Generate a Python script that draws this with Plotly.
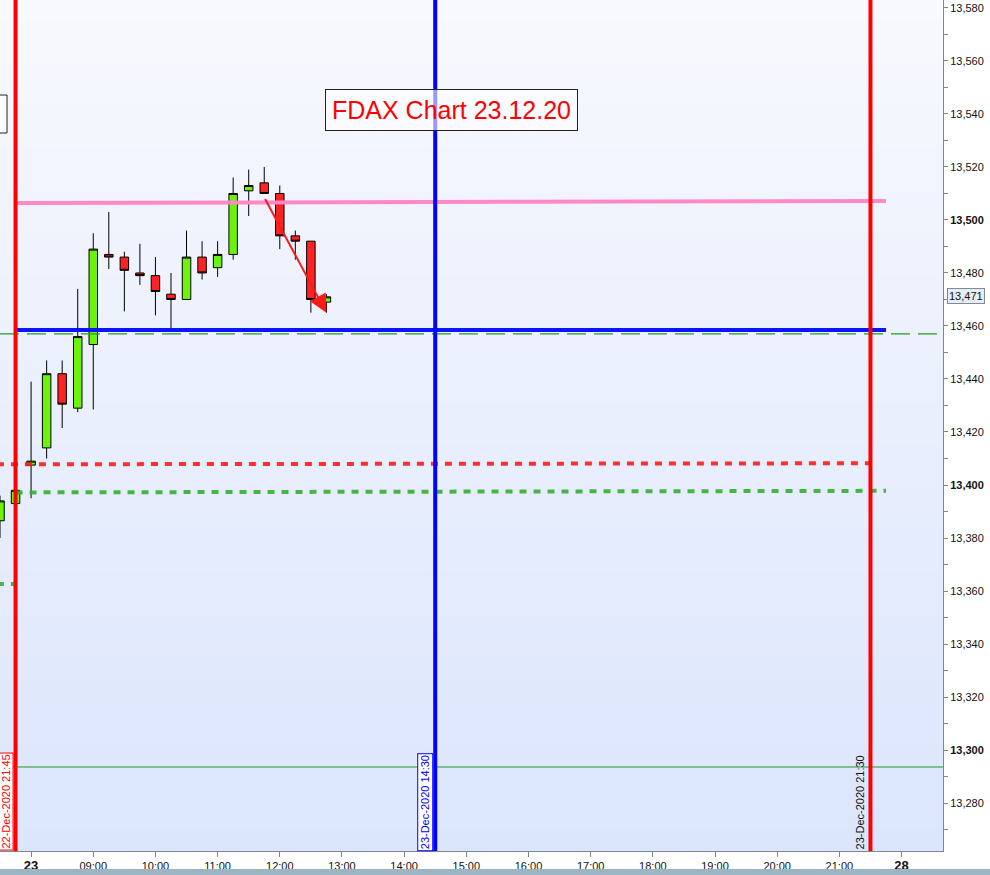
import plotly.graph_objects as go

# ---------------- data ----------------
times = ["2020-12-22 21:30", "2020-12-22 21:45",
         "2020-12-23 08:00", "2020-12-23 08:15", "2020-12-23 08:30", "2020-12-23 08:45",
         "2020-12-23 09:00", "2020-12-23 09:15", "2020-12-23 09:30", "2020-12-23 09:45",
         "2020-12-23 10:00", "2020-12-23 10:15", "2020-12-23 10:30", "2020-12-23 10:45",
         "2020-12-23 11:00", "2020-12-23 11:15", "2020-12-23 11:30", "2020-12-23 11:45",
         "2020-12-23 12:00", "2020-12-23 12:15", "2020-12-23 12:30", "2020-12-23 12:45"]
opens = [13386.5, 13393, 13407.5, 13414, 13442, 13429, 13453, 13487, 13486, 13480,
         13479, 13472, 13470, 13486, 13482, 13487, 13511, 13514, 13510, 13494, 13492, 13469]
highs = [13396, 13399, 13439, 13447, 13447, 13474, 13495, 13503, 13488, 13491,
         13486, 13480, 13496, 13492, 13492, 13516, 13519, 13520, 13513, 13496, 13492, 13472]
lows = [13380, 13392, 13395, 13410, 13421.5, 13427.5, 13428.5, 13481.5, 13465.5, 13475.5,
        13464, 13458.5, 13470, 13477.5, 13478.5, 13485, 13501.5, 13510, 13489, 13485, 13465, 13465]
closes = [13394, 13398, 13409, 13442, 13430.5, 13456, 13489, 13486, 13481, 13479,
          13473, 13470, 13486, 13480, 13487, 13510, 13513, 13510, 13494, 13492, 13470, 13471]

last_price = 13471
title_text = "FDAX Chart 23.12.20"

# horizontal levels
pink_level = (13506.4, 13507.2)
blue_level = 13458.5
green_dash_level = 13457.0
red_dot_level = (13407.8, 13408.2)
green_dot_level = (13397.2, 13397.8)
old_green_dot_level = 13362.6
thin_green_level = 13293.6

# vertical markers
vline_left = "2020-12-22 21:45"
vline_mid = "2020-12-23 14:30"
vline_right = "2020-12-23 21:30"
vlabel_left = "22-Dec-2020 21:45"
vlabel_mid = "23-Dec-2020 14:30"
vlabel_right = "23-Dec-2020 21:30"
level_end = "2020-12-23 21:45"

# arrow
arrow_start = ("2020-12-23 11:45", 13508.5)
arrow_end = ("2020-12-23 12:45", 13465.0)

# non-trading gaps (session breaks)
gaps = [["2020-12-22 22:00", "2020-12-23 08:00"],
        ["2020-12-23 22:00", "2020-12-28 08:00"]]

# axis ticks
x_tickvals = ["2020-12-23 08:00", "2020-12-23 09:00", "2020-12-23 10:00", "2020-12-23 11:00",
              "2020-12-23 12:00", "2020-12-23 13:00", "2020-12-23 14:00", "2020-12-23 15:00",
              "2020-12-23 16:00", "2020-12-23 17:00", "2020-12-23 18:00", "2020-12-23 19:00",
              "2020-12-23 20:00", "2020-12-23 21:00", "2020-12-28 08:00"]
x_ticktext = ["<span style='font-size:13px'><b>23</b></span>", "09:00", "10:00", "11:00", "12:00",
              "13:00", "14:00", "15:00", "16:00", "17:00", "18:00", "19:00", "20:00", "21:00",
              "<span style='font-size:13px'><b>28</b></span>"]
y_tickvals = list(range(13280, 13581, 20))
y_bold = [13300, 13400, 13500]
y_ticktext = [("<b>%s</b>" % f"{v:,}") if v in y_bold else f"{v:,}" for v in y_tickvals]

x_range = ["2020-12-22 21:30", "2020-12-28 08:40"]
y_range = [13261.9, 13583.0]

FONT = "Liberation Sans, Arial, sans-serif"

fig = go.Figure()
fig.add_trace(go.Candlestick(
    x=times, open=opens, high=highs, low=lows, close=closes,
    increasing=dict(line=dict(color="black", width=1), fillcolor="#6df20c"),
    decreasing=dict(line=dict(color="black", width=1), fillcolor="#ff2222"),
    whiskerwidth=0, showlegend=False, hoverinfo="skip"))

shapes = []
# gradient background
n = 40
top = (248, 249, 254)
bot = (219, 229, 252)
for i in range(n):
    t = i / (n - 1)
    c = tuple(round(top[k] + (bot[k] - top[k]) * t) for k in range(3))
    shapes.append(dict(type="rect", xref="paper", yref="paper", x0=0, x1=1,
                       y0=1 - (i + 1) / n, y1=1 - i / n + 0.002, layer="below",
                       line=dict(width=0), fillcolor="rgb(%d,%d,%d)" % c))

# full-width thin lines
shapes.append(dict(type="line", xref="paper", yref="y", x0=0, x1=1,
                   y0=green_dash_level, y1=green_dash_level,
                   line=dict(color="#1e9e1e", width=1.2, dash="19px,8px")))
shapes.append(dict(type="line", xref="paper", yref="y", x0=0, x1=1,
                   y0=thin_green_level, y1=thin_green_level,
                   line=dict(color="#2a962a", width=1.2)))
# dotted levels
shapes.append(dict(type="line", xref="x", yref="y", x0="2020-12-22 21:00", x1=vline_right,
                   y0=red_dot_level[0], y1=red_dot_level[1],
                   line=dict(color="rgba(255,25,25,0.9)", width=4, dash="7px,7px")))
shapes.append(dict(type="line", xref="x", yref="y", x0=vline_left, x1=level_end,
                   y0=green_dot_level[0], y1=green_dot_level[1],
                   line=dict(color="rgba(50,175,50,0.9)", width=4, dash="7px,7px")))
shapes.append(dict(type="line", xref="x", yref="y", x0="2020-12-22 21:00", x1=vline_left,
                   y0=old_green_dot_level, y1=old_green_dot_level,
                   line=dict(color="rgba(50,175,50,0.9)", width=4, dash="7px,7px")))
# solid levels
shapes.append(dict(type="line", xref="x", yref="y", x0=vline_left, x1=level_end,
                   y0=pink_level[0], y1=pink_level[1],
                   line=dict(color="#ff88c6", width=4)))
shapes.append(dict(type="line", xref="x", yref="y", x0=vline_left, x1=level_end,
                   y0=blue_level, y1=blue_level,
                   line=dict(color="#0a14ff", width=4)))
# vertical lines
for xv, col in [(vline_left, "#ff0000"), (vline_mid, "#0000ff"), (vline_right, "#ff0000")]:
    shapes.append(dict(type="line", xref="x", yref="paper", x0=xv, x1=xv, y0=0, y1=1,
                       line=dict(color=col, width=4)))
# cut-off box at the left edge
shapes.append(dict(type="rect", xref="paper", yref="paper", x0=-0.05, x1=7 / 943,
                   y0=1 - 133 / 851, y1=1 - 95 / 851, line=dict(color="#222222", width=1),
                   fillcolor="white"))
# bottom status strip
shapes.append(dict(type="rect", xref="paper", yref="paper", x0=-0.01, x1=1.06,
                   y0=-0.04, y1=-18 / 851, line=dict(width=0), fillcolor="#9db5c2"))

annotations = [
    dict(text=title_text, xref="paper", yref="paper", x=451.5 / 943, y=1 - 109.5 / 851,
         xanchor="center", yanchor="middle",
         showarrow=False, font=dict(family=FONT, size=25, color="#ff0000"),
         bgcolor="rgba(255,255,255,0.6)", bordercolor="#222222", borderwidth=1, borderpad=6),
    dict(text="13,471", xref="paper", yref="y", x=1, y=last_price + 0.5, xanchor="left",
         yanchor="middle", xshift=4, showarrow=False,
         font=dict(family=FONT, size=11, color="#111111"),
         bgcolor="#e6edf4", bordercolor="#7b8a98", borderwidth=1, borderpad=1),
    dict(text=vlabel_left, xref="x", yref="paper", x=vline_left, y=0, xanchor="right",
         yanchor="bottom", xshift=-2, textangle=-90, showarrow=False,
         font=dict(family=FONT, size=11, color="#ff0000"), bgcolor="white",
         bordercolor="#ff0000", borderwidth=1, borderpad=1),
    dict(text=vlabel_mid, xref="x", yref="paper", x=vline_mid, y=0, xanchor="right",
         yanchor="bottom", xshift=-2, textangle=-90, showarrow=False,
         font=dict(family=FONT, size=11, color="#0000ff"), bgcolor="white",
         bordercolor="#0000ff", borderwidth=1, borderpad=1),
    dict(text=vlabel_right, xref="x", yref="paper", x=vline_right, y=0, xanchor="right",
         yanchor="bottom", xshift=-2, textangle=-90, showarrow=False,
         font=dict(family=FONT, size=11, color="#111111")),
    dict(text="", xref="x", yref="y", x=arrow_end[0], y=arrow_end[1],
         axref="x", ayref="y", ax=arrow_start[0], ay=arrow_start[1],
         showarrow=True, arrowhead=2, arrowsize=1.8, arrowwidth=2, arrowcolor="#ff1a1a"),
]

fig.update_layout(
    width=990, height=875,
    margin=dict(l=0, r=47, t=0, b=24, autoexpand=False),
    paper_bgcolor="white", plot_bgcolor="rgba(0,0,0,0)",
    font=dict(family=FONT, size=11, color="#111111"),
    shapes=shapes, annotations=annotations,
    showlegend=False,
    boxgap=0.22,
    xaxis=dict(
        type="date", range=x_range,
        rangebreaks=[dict(bounds=g) for g in gaps],
        tickvals=x_tickvals, ticktext=x_ticktext,
        ticks="outside", ticklen=5, tickcolor="#7c8790",
        showline=True, linecolor="#7c8790", linewidth=1, mirror=False,
        showgrid=False, zeroline=False, rangeslider=dict(visible=False),
        tickfont=dict(family=FONT, size=11, color="#111111"), automargin=False,
    ),
    yaxis=dict(
        side="right", range=y_range,
        tickvals=y_tickvals, ticktext=y_ticktext,
        ticks="outside", ticklen=4, tickcolor="#7c8790",
        minor=dict(dtick=10, tick0=13270, ticks="outside", ticklen=4, tickcolor="#7c8790"),
        showline=True, linecolor="#7c8790", linewidth=1,
        showgrid=False, zeroline=False,
        tickfont=dict(family=FONT, size=11, color="#111111"), automargin=False,
    ),
)

fig.write_html("out.html", config={"displayModeBar": False},
               post_script="document.body.style.margin='0';document.body.style.padding='0';"
                           "document.body.style.overflow='hidden';")
